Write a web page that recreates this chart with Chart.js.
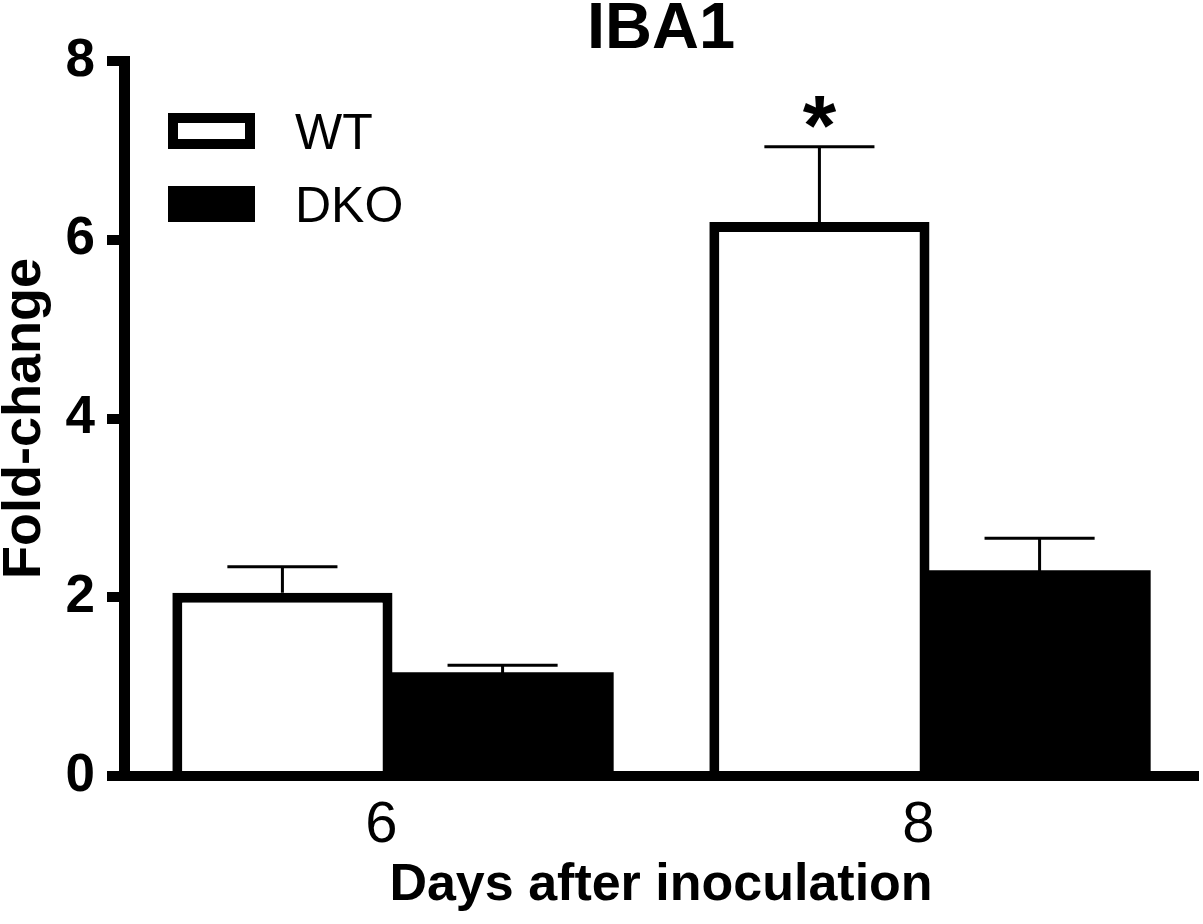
<!DOCTYPE html>
<html>
<head>
<meta charset="utf-8">
<title>IBA1</title>
<script src="https://cdn.jsdelivr.net/npm/chart.js@4.4.1/dist/chart.umd.min.js"></script>
<style>
  html, body { margin: 0; padding: 0; background: #fff; }
  #wrap { width: 1203px; height: 924px; }
</style>
</head>
<body>
<div id="wrap"><canvas id="chart" width="1203" height="924"></canvas></div>
<script>
// --- DATA ---
const days = ['6', '8'];
const wtMean = [2.05, 6.20];
const wtSem = [0.29, 0.84];
const dkoMean = [1.15, 2.29];
const dkoSem = [0.09, 0.37];
const wtMarks = ['', '*'];
const dkoMarks = ['', ''];
const yTicks = [0, 2, 4, 6, 8];

const FONT = "'Liberation Sans', Arial, Helvetica, sans-serif";
Chart.defaults.font.family = FONT;
Chart.defaults.color = '#000';

// error bars (upper only) + significance marks, drawn from the scales
const errorBars = {
    id: 'errorBars',
    afterDatasetsDraw(chart) {
        const c = chart.ctx;
        const yScale = chart.scales.y;
        chart.data.datasets.forEach((ds, i) => {
            const meta = chart.getDatasetMeta(i);
            meta.data.forEach((bar, j) => {
                const top = yScale.getPixelForValue(ds.data[j] + ds.sem[j]);
                const half = bar.width * 0.25;
                c.save();
                c.strokeStyle = '#000';
                c.lineWidth = 3;
                c.beginPath();
                c.moveTo(bar.x, bar.y);
                c.lineTo(bar.x, top);
                c.moveTo(bar.x - half, top);
                c.lineTo(bar.x + half, top);
                c.stroke();
                const mark = ds.marks[j];
                if (mark) {
                    c.font = 'bold 86px ' + FONT;
                    c.fillStyle = '#000';
                    c.textAlign = 'center';
                    c.textBaseline = 'alphabetic';
                    const m = c.measureText(mark);
                    // ink bottom sits ~19px above the cap
                    c.fillText(mark, bar.x, top - 19 - m.actualBoundingBoxDescent);
                }
                c.restore();
            });
        });
    }
};

// legend stacked inside the plot, top-left
const boxLegend = {
    id: 'boxLegend',
    afterDraw(chart) {
        const c = chart.ctx;
        const area = chart.chartArea;
        const x0 = area.left + 44;
        let y0 = area.top + 52;
        c.save();
        c.font = '50px ' + FONT;
        c.textAlign = 'left';
        c.textBaseline = 'alphabetic';
        chart.data.datasets.forEach(ds => {
            const w = 87, h = 36, bw = ds.borderWidth || 0;
            c.fillStyle = ds.backgroundColor;
            c.fillRect(x0, y0, w, h);
            if (bw) {
                c.strokeStyle = ds.borderColor;
                c.lineWidth = bw;
                c.strokeRect(x0 + bw / 2, y0 + bw / 2, w - bw, h - bw);
            }
            const m = c.measureText(ds.label);
            c.fillStyle = '#000';
            c.fillText(ds.label, x0 + 127, y0 + h / 2 + m.actualBoundingBoxAscent / 2);
            y0 += 73;
        });
        c.restore();
    }
};

new Chart(document.getElementById('chart'), {
    type: 'bar',
    data: {
        labels: days,
        datasets: [
            {
                label: 'WT',
                data: wtMean,
                sem: wtSem,
                marks: wtMarks,
                backgroundColor: '#fff',
                borderColor: '#000',
                borderWidth: 10,
                borderSkipped: 'start'
            },
            {
                label: 'DKO',
                data: dkoMean,
                sem: dkoSem,
                marks: dkoMarks,
                backgroundColor: '#000',
                borderColor: '#000',
                borderWidth: 0,
                inflateAmount: 1
            }
        ]
    },
    options: {
        responsive: false,
        animation: false,
        devicePixelRatio: 1,
        categoryPercentage: 0.82,
        barPercentage: 1.0,
        layout: { padding: { left: 0, right: 5, top: 0, bottom: 0 } },
        plugins: {
            legend: { display: false },
            tooltip: { enabled: false },
            title: {
                display: true,
                fullSize: false,
                text: 'IBA1',
                font: { size: 65, weight: 'bold', lineHeight: 61 / 65 },
                padding: { top: 0, bottom: 0 },
                color: '#000'
            }
        },
        scales: {
            x: {
                z: 1,
                afterFit: s => { s.height = 148; },
                border: { display: true, color: '#000', width: 10 },
                grid: { display: false, drawTicks: false },
                ticks: { color: '#000', font: { size: 58, lineHeight: 1 }, padding: 21, labelOffset: -11 },
                title: {
                    display: true,
                    text: 'Days after inoculation',
                    color: '#000',
                    font: { size: 52, weight: 'bold', lineHeight: 1 },
                    padding: { top: 0, bottom: 12 }
                }
            },
            y: {
                z: 1,
                min: 0,
                max: 8,
                afterFit: s => { s.width = 124; },
                afterBuildTicks: s => { s.ticks = yTicks.map(v => ({ value: v })); },
                border: { display: true, color: '#000', width: 11 },
                grid: { display: true, drawOnChartArea: false, drawTicks: true, tickLength: 17, lineWidth: 10, color: '#000' },
                ticks: { color: '#000', font: { size: 53, weight: 'bold' }, padding: 12 },
                title: {
                    display: true,
                    text: 'Fold-change',
                    color: '#000',
                    font: { size: 54, weight: 'bold', lineHeight: 1 },
                    padding: { top: -2, bottom: 0 }
                }
            }
        }
    },
    plugins: [errorBars, boxLegend]
});
</script>
</body>
</html>
